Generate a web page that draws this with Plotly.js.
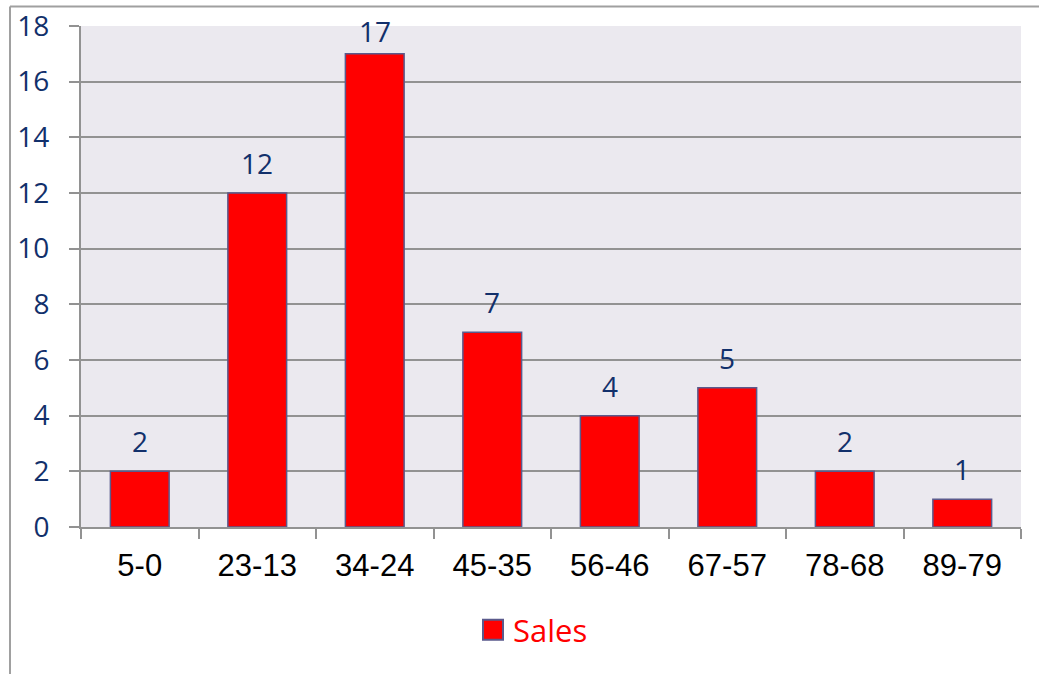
<!DOCTYPE html>
<html>
<head>
<meta charset="utf-8">
<script src="https://cdn.plot.ly/plotly-3.0.1.min.js"></script>
<style>html,body{margin:0;padding:0;background:#fff;}#chart{width:1039px;height:674px;}</style>
</head>
<body>
<div id="chart"></div>
<script>
const categories = ["5-0", "23-13", "34-24", "45-35", "56-46", "67-57", "78-68", "89-79"];
const salesValues = [2, 12, 17, 7, 4, 5, 2, 1];
const seriesName = "Sales";
const yTickValues = [0, 2, 4, 6, 8, 10, 12, 14, 16, 18];
const yMax = 18;

const navy = "#12306B";
const gridGray = "#929292";

const W = 940, H = 501, L = 81, T = 26;
const px = v => (v - L) / W;
const py = v => (T + H - v) / H;

const trace = {
  type: "bar",
  name: seriesName,
  x: categories,
  y: salesValues,
  marker: {color: "#FF0000", line: {color: "#5A5A8C", width: 1.5}},
  hoverinfo: "x+y"
};

// data labels: centred ~30px above the bar top, kept inside the chart near the top
const labelAnnotations = categories.map((c, i) => {
  const topPx = T + H * (1 - salesValues[i] / yMax);
  const shift = Math.min(30, topPx - 31);
  return {
    x: c, y: salesValues[i], xref: "x", yref: "y",
    text: String(salesValues[i]), showarrow: false,
    yanchor: "middle", yshift: shift,
    font: {family: "Open Sans, sans-serif", size: 28, color: navy}
  };
});

const layout = {
  width: 1039, height: 674,
  margin: {l: 81, r: 18, t: 26, b: 147},
  paper_bgcolor: "#FFFFFF",
  plot_bgcolor: "#EBE9EF",
  bargap: 0.5,
  showlegend: true,
  legend: {
    x: px(533), y: py(630), xanchor: "center", yanchor: "middle",
    orientation: "h",
    font: {family: "Open Sans, sans-serif", size: 31, color: "#FF0000"},
    bgcolor: "rgba(0,0,0,0)",
    itemwidth: 30
  },
  xaxis: {
    type: "category",
    showgrid: false,
    showline: true, linecolor: gridGray, linewidth: 2,
    ticks: "outside", tickson: "boundaries", ticklen: 10, tickcolor: gridGray, tickwidth: 2,
    tickfont: {family: "Liberation Sans, Arial, sans-serif", size: 31, color: "#000000"},
    ticklabelstandoff: 10,
    zeroline: false
  },
  yaxis: {
    range: [0, yMax],
    tickvals: yTickValues,
    ticktext: yTickValues.map(String),
    showgrid: true, gridcolor: gridGray, gridwidth: 2,
    showline: true, linecolor: gridGray, linewidth: 2,
    ticks: "outside", ticklen: 10, tickcolor: gridGray, tickwidth: 2,
    tickfont: {family: "Open Sans, sans-serif", size: 28, color: navy},
    ticklabelstandoff: 14,
    zeroline: false,
    fixedrange: true
  },
  annotations: labelAnnotations,
  shapes: [
    {type: "line", xref: "paper", yref: "paper", x0: px(10), x1: px(1045), y0: py(6.5), y1: py(6.5),
     line: {color: "#A0A0A0", width: 2}},
    {type: "line", xref: "paper", yref: "paper", x0: px(10), x1: px(10), y0: py(6.5), y1: py(680),
     line: {color: "#A0A0A0", width: 2}}
  ]
};

Plotly.newPlot("chart", [trace], layout, {displayModeBar: false, staticPlot: true}).then(() => {
  document.querySelectorAll("#chart .legend .legendpoints path").forEach(p => {
    p.setAttribute("d", "M10,10H-10V-10H10Z");
    p.style.strokeWidth = "2px";
  });
});
</script>
</body>
</html>
